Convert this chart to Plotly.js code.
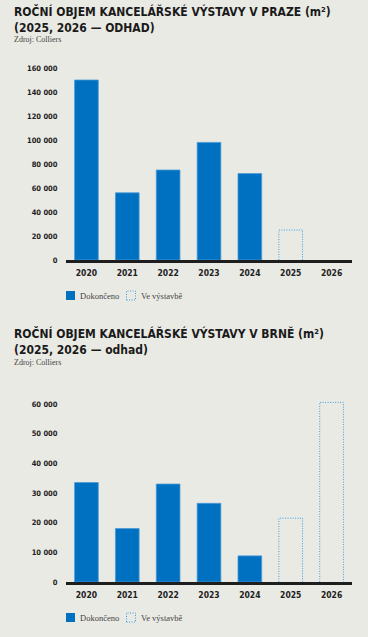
<!DOCTYPE html>
<html>
<head>
<meta charset="utf-8">
<script src="https://cdn.plot.ly/plotly-3.0.1.min.js"></script>
<style>
html,body{margin:0;padding:0;background:#eaeae5;}
#chart{width:368px;height:637px;}
</style>
</head>
<body>
<div id="chart"></div>
<script>
// ---- data ----
const years = ['2020','2021','2022','2023','2024','2025','2026'];
const prahaDone = [150000, 56000, 75000, 98000, 72000, null, null];
const prahaBuild = [null, null, null, null, null, 25000, null];
const brnoDone = [33500, 18000, 33000, 26500, 8800, null, null];
const brnoBuild = [null, null, null, null, null, 21500, 60500];
const prahaTicks = [0, 20000, 40000, 60000, 80000, 100000, 120000, 140000, 160000];
const brnoTicks = [0, 10000, 20000, 30000, 40000, 50000, 60000];
const legendDone = 'Dokončeno';
const legendBuild = 'Ve výstavbě';
const titlePraha = 'ROČNÍ OBJEM KANCELÁŘSKÉ VÝSTAVY V PRAZE (m²)<br>(2025, 2026 — ODHAD)';
const titleBrno = 'ROČNÍ OBJEM KANCELÁŘSKÉ VÝSTAVY V BRNĚ (m²)<br>(2025, 2026 — odhad)';
const source = 'Zdroj: Colliers';

// ---- style ----
const W = 368, H = 637;
const BG = '#eaeae5';
const BLUE = '#0070c0';
const DOT = '#3c9de0';
const BW = 0.58;
const condensed = '"Liberation Sans Narrow", "DejaVu Sans Condensed", Arial Narrow, sans-serif';
const serif = '"Liberation Serif", "DejaVu Serif", serif';
const px = v => v / W;
const py = v => 1 - v / H;
const idx = years.map((_, i) => i);

function doneTrace(vals, xa, ya) {
  const x = [], y = [];
  vals.forEach((v, i) => { if (v !== null) { x.push(i); y.push(v); } });
  return {type: 'bar', x: x, y: y, width: BW, xaxis: xa, yaxis: ya,
    marker: {color: BLUE, line: {color: '#4a9bd8', width: 0.8}},
    showlegend: false, hoverinfo: 'y'};
}
function buildTraces(vals, xa, ya) {
  const out = [];
  vals.forEach((v, i) => {
    if (v === null) return;
    out.push({type: 'scatter', mode: 'lines', xaxis: xa, yaxis: ya,
      x: [i - BW / 2, i - BW / 2, i + BW / 2, i + BW / 2],
      y: [0, v, v, 0],
      line: {color: DOT, width: 1, dash: '1px,1.5px'},
      showlegend: false, hoverinfo: 'skip'});
  });
  return out;
}

const data = [
  doneTrace(prahaDone, 'x', 'y'),
  ...buildTraces(prahaBuild, 'x', 'y'),
  doneTrace(brnoDone, 'x2', 'y2'),
  ...buildTraces(brnoBuild, 'x2', 'y2')
];

const xBase = {
  range: [-0.5, 6.5], tickvals: idx, ticktext: years,
  showline: true, linewidth: 3, linecolor: '#1e1e1e',
  showgrid: false, zeroline: false, ticks: 'outside', ticklen: 3,
  tickcolor: 'rgba(0,0,0,0)', fixedrange: true,
  tickfont: {family: condensed, size: 8.5, color: '#222', weight: 'bold'}
};
const yBase = {
  showgrid: false, zeroline: false, showline: false,
  ticks: 'outside', ticklen: 6, tickcolor: 'rgba(0,0,0,0)',
  tickformat: ',d', fixedrange: true,
  tickfont: {family: condensed, size: 7.5, color: '#222', weight: 'bold'}
};

const xDom = [px(66), px(352)];

function legendItems(top) {
  const s = [], a = [];
  s.push({type: 'rect', xref: 'paper', yref: 'paper',
    x0: px(66), x1: px(75), y0: py(top + 9), y1: py(top),
    fillcolor: BLUE, line: {width: 0}});
  s.push({type: 'rect', xref: 'paper', yref: 'paper',
    x0: px(126.5), x1: px(135.5), y0: py(top + 9), y1: py(top),
    fillcolor: 'rgba(0,0,0,0)', line: {color: DOT, width: 1, dash: '1px,1.5px'}});
  a.push({xref: 'paper', yref: 'paper', x: px(78), y: py(top + 4.5),
    xanchor: 'left', yanchor: 'middle', showarrow: false, text: legendDone,
    font: {family: serif, size: 8.5, color: '#444'}});
  a.push({xref: 'paper', yref: 'paper', x: px(139), y: py(top + 4.5),
    xanchor: 'left', yanchor: 'middle', showarrow: false, text: legendBuild,
    font: {family: serif, size: 8.5, color: '#444'}});
  return {s, a};
}
const lg1 = legendItems(291), lg2 = legendItems(613);

const titleFont = {family: condensed, size: 12, color: '#1a1a1a', weight: 'bold'};
const annotations = [
  {xref: 'paper', yref: 'paper', x: px(12), y: py(2), xanchor: 'left', yanchor: 'top',
    align: 'left', showarrow: false, text: titlePraha, font: titleFont},
  {xref: 'paper', yref: 'paper', x: px(12), y: py(33.5), xanchor: 'left', yanchor: 'top',
    align: 'left', showarrow: false, text: source, font: {family: serif, size: 8, color: '#444'}},
  {xref: 'paper', yref: 'paper', x: px(12), y: py(324), xanchor: 'left', yanchor: 'top',
    align: 'left', showarrow: false, text: titleBrno, font: titleFont},
  {xref: 'paper', yref: 'paper', x: px(12), y: py(355.5), xanchor: 'left', yanchor: 'top',
    align: 'left', showarrow: false, text: source, font: {family: serif, size: 8, color: '#444'}},
  ...lg1.a, ...lg2.a
];

const layout = {
  width: W, height: H,
  paper_bgcolor: BG, plot_bgcolor: BG,
  margin: {l: 0, r: 0, t: 0, b: 0},
  separators: ', ',
  showlegend: false,
  xaxis: Object.assign({}, xBase, {domain: xDom, anchor: 'y'}),
  yaxis: Object.assign({}, yBase, {domain: [py(260), py(62)], range: [0, 165000],
    tickvals: prahaTicks, anchor: 'x'}),
  xaxis2: Object.assign({}, xBase, {domain: xDom, anchor: 'y2'}),
  yaxis2: Object.assign({}, yBase, {domain: [py(582), py(395)], range: [0, 63000],
    tickvals: brnoTicks, anchor: 'x2'}),
  shapes: [...lg1.s, ...lg2.s],
  annotations: annotations
};

Plotly.newPlot('chart', data, layout, {displayModeBar: false, staticPlot: true});
</script>
</body>
</html>
